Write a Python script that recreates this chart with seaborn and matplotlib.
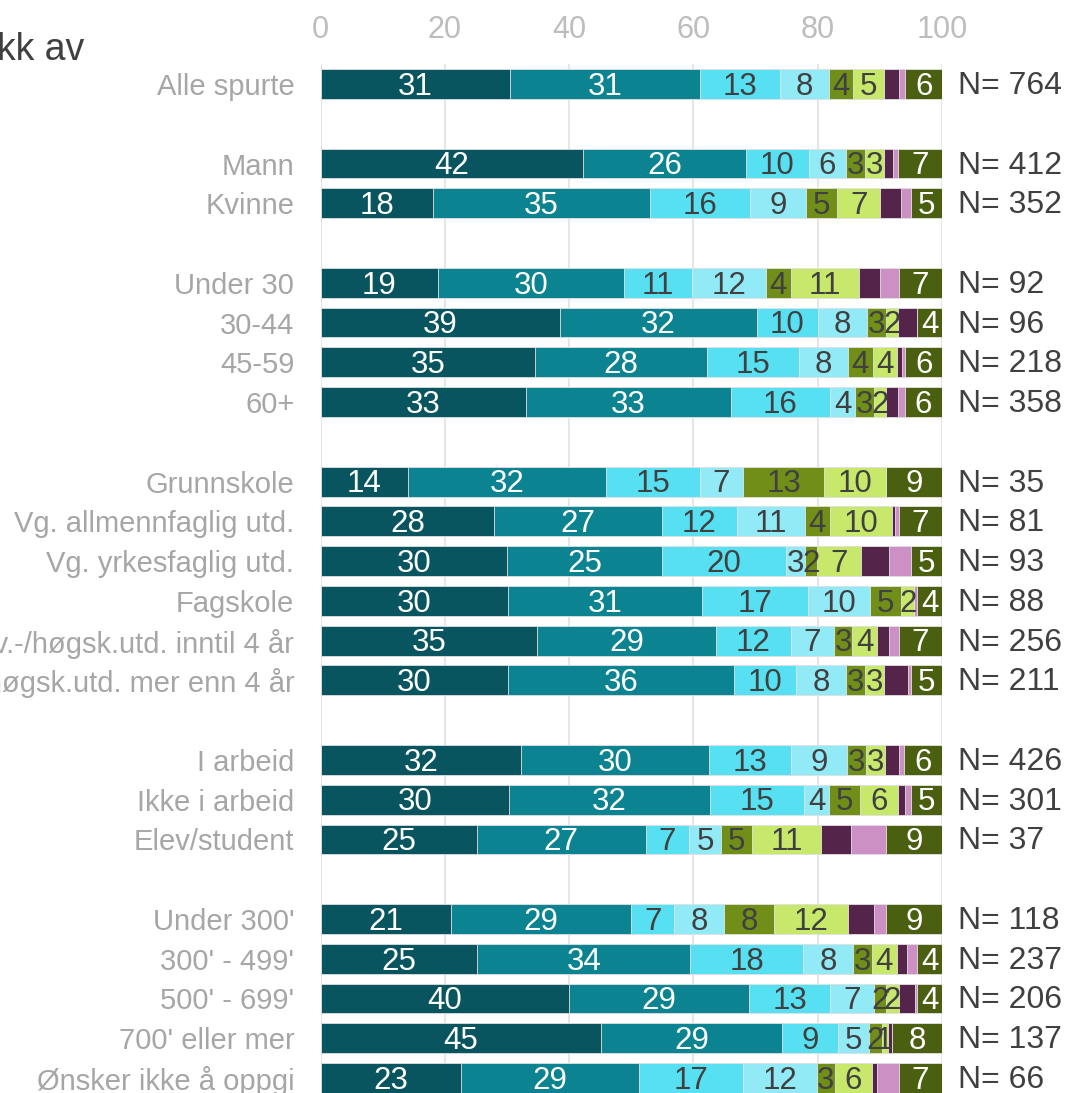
import numpy as np
import pandas as pd
import matplotlib
matplotlib.use("Agg")
import matplotlib.pyplot as plt
import seaborn as sns

categories = ["Alle spurte", "Mann", "Kvinne", "Under 30", "30-44", "45-59", "60+",
              "Grunnskole", "Vg. allmennfaglig utd.", "Vg. yrkesfaglig utd.", "Fagskole",
              "Univ.-/høgsk.utd. inntil 4 år", "Univ.-/høgsk.utd. mer enn 4 år",
              "I arbeid", "Ikke i arbeid", "Elev/student",
              "Under 300'", "300' - 499'", "500' - 699'", "700' eller mer", "Ønsker ikke å oppgi"]
positions = [0, 2, 3, 5, 6, 7, 8, 10, 11, 12, 13, 14, 15, 17, 18, 19, 21, 22, 23, 24, 25]
n_values = [764, 412, 352, 92, 96, 218, 358, 35, 81, 93, 88, 256, 211, 426, 301, 37, 118, 237, 206, 137, 66]

s1 = [31, 42, 18, 19, 39, 35, 33, 14, 28, 30, 30, 35, 30, 32, 30, 25, 21, 25, 40, 45, 23]
s2 = [31, 26, 35, 30, 32, 28, 33, 32, 27, 25, 31, 29, 36, 30, 32, 27, 29, 34, 29, 29, 29]
s3 = [13, 10, 16, 11, 10, 15, 16, 15, 12, 20, 17, 12, 10, 13, 15, 7, 7, 18, 13, 9, 17]
s4 = [8, 6, 9, 12, 8, 8, 4, 7, 11, 3, 10, 7, 8, 9, 4, 5, 8, 8, 7, 5, 12]
s5 = [4, 3, 5, 4, 3, 4, 3, 13, 4, 2, 5, 3, 3, 3, 5, 5, 8, 3, 2, 2, 3]
s6 = [5, 3, 7, 11, 2, 4, 2, 10, 10, 7, 2, 4, 3, 3, 6, 11, 12, 4, 2, 1, 6]
s7 = [2.4, 1.5, 3.3, 3.4, 3.2, 0.8, 1.9, 0, 0.5, 4.6, 0, 1.9, 3.8, 2.3, 1.1, 4.9, 4.2, 1.6, 2.7, 0.7, 0.8]
s8 = [1.1, 0.8, 1.6, 3.1, 0, 0.5, 1.1, 0, 0.6, 3.5, 0.5, 1.6, 0.5, 0.8, 0.9, 5.5, 1.9, 1.6, 0.3, 0, 3.7]
s9 = [6, 7, 5, 7, 4, 6, 6, 9, 7, 5, 4, 7, 5, 6, 5, 9, 9, 4, 4, 8, 7]

x_ticks = [0, 20, 40, 60, 80, 100]

series = [s1, s2, s3, s4, s5, s6, s7, s8, s9]
colors = ["#085560", "#0b8391", "#56e0f2", "#93eaf7", "#718e19", "#c8e86c", "#55244b", "#cc90c4", "#4a5f0f"]
label_colors = ["white", "white", "#404040", "#404040", "#404040", "#404040", None, None, "white"]

sns.set_style("white")
plt.rcParams["font.family"] = ["Liberation Sans", "DejaVu Sans"]

vals = np.array(series, dtype=float).T  # rows x series
totals = vals.sum(axis=1, keepdims=True)
widths = vals / totals * 100
cum = np.cumsum(widths, axis=1)

W, H = 1068, 1093
fig = plt.figure(figsize=(W / 100, H / 100), dpi=100)
x0, x1 = 320.7, 942.0
top_px = 84 - 0.5 * 39.76
bot_px = 1078 + 0.5 * 39.76
ax = fig.add_axes([x0 / W, 1 - bot_px / H, (x1 - x0) / W, (bot_px - top_px) / H])

for k in range(len(series) - 1, -1, -1):
    df = pd.DataFrame({"value": cum[:, k], "pos": positions})
    sns.barplot(data=df, x="value", y="pos", orient="h", native_scale=True,
                color=colors[k], saturation=1, width=0.75, errorbar=None,
                edgecolor="#e3e3e3", linewidth=0.6, ax=ax)

for i, p in enumerate(positions):
    left = 0.0
    for k in range(len(series)):
        w = widths[i, k]
        v = vals[i, k]
        if label_colors[k] is not None and round(v) >= 1:
            ax.text(left + w / 2, p + 0.07, f"{int(round(v))}", ha="center", va="center",
                    fontsize=22.5, color=label_colors[k])
        left += w
    ax.text(102.6, p + 0.05, f"N= {n_values[i]}", ha="left", va="center", fontsize=23,
            color="#404040", clip_on=False)

ax.set_xlim(0, 100)
ax.set_ylim(25.5, -0.5)
ax.set_xticks(x_ticks)
ax.set_xticklabels([str(t) for t in x_ticks])
ax.set_yticks(positions)
ax.set_yticklabels(categories)
ax.set_xlabel("")
ax.set_ylabel("")
ax.xaxis.tick_top()
ax.tick_params(axis="x", length=0, pad=14, labelsize=22, labelcolor="#bdbdbd")
ax.tick_params(axis="y", length=0, pad=19, labelsize=21, labelcolor="#a6a6a6")
ax.grid(axis="x", color="#e6e6e6", linewidth=1.5)
ax.grid(axis="y", visible=False)
ax.set_axisbelow(True)
for s in ax.spines.values():
    s.set_visible(False)

fig.text(-0.003, 1 - 50 / H, "kk av", ha="left", va="center", fontsize=27, color="#404040")

fig.savefig("out.png", dpi=100)
